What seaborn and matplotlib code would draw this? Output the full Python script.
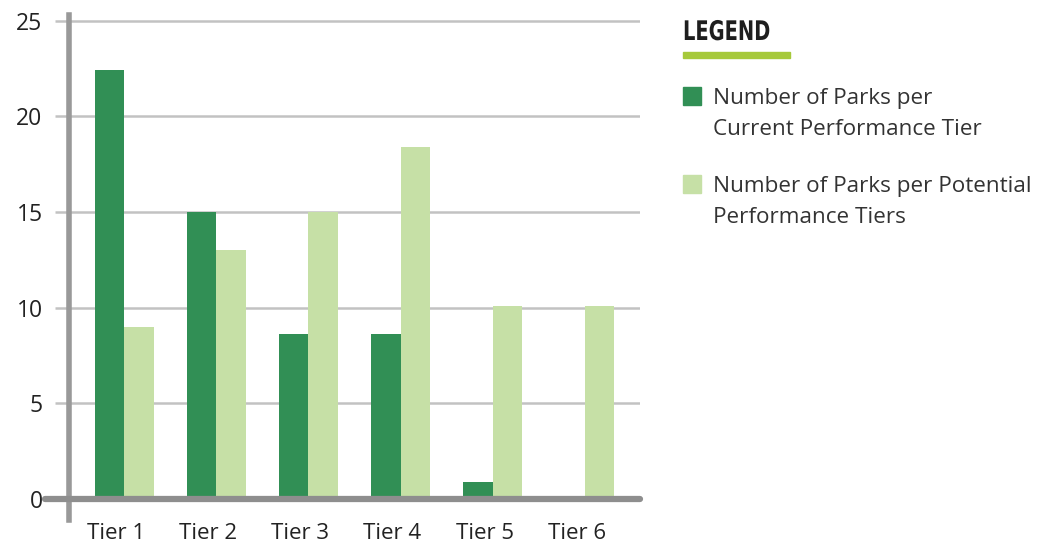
import pandas as pd
import matplotlib.pyplot as plt
import matplotlib.transforms as mtransforms
from matplotlib.patches import Rectangle, PathPatch
from matplotlib.textpath import TextPath
from matplotlib.font_manager import FontProperties
import seaborn as sns

tiers = ["Tier 1", "Tier 2", "Tier 3", "Tier 4", "Tier 5", "Tier 6"]
current_parks = [22.4, 15.0, 8.6, 8.6, 0.9, 0.0]
potential_parks = [9.0, 13.0, 15.0, 18.4, 10.1, 10.1]
series_names = ["Number of Parks per\nCurrent Performance Tier",
                "Number of Parks per Potential\nPerformance Tiers"]
y_ticks = [0, 5, 10, 15, 20, 25]

dark_green = "#318f55"
light_green = "#c6e0a6"

sns.set_theme(style="white")
plt.rcParams["font.family"] = ["Open Sans", "DejaVu Sans"]

df = pd.DataFrame({
    "tier": tiers * 2,
    "parks": current_parks + potential_parks,
    "series": [series_names[0]] * len(tiers) + [series_names[1]] * len(tiers),
})

fig = plt.figure(figsize=(10.4, 5.44), dpi=100)
ax = fig.add_axes([69 / 1040, (544 - 520) / 544, 571 / 1040, 505 / 544])

sns.barplot(data=df, x="tier", y="parks", hue="series", order=tiers,
            hue_order=series_names, palette=[dark_green, light_green],
            width=0.64, gap=0, linewidth=0, saturation=1, ax=ax, legend=False)

ax.set_xlim(-0.6, 5.6)
ax.set_ylim(-1.1, 25.3)
ax.set_yticks(y_ticks)
ax.set_xlabel("")
ax.set_ylabel("")

# grid lines
ax.grid(axis="y", color="#c2c2c2", linewidth=1.8, zorder=0)
ax.set_axisbelow(True)

for s in ["top", "right", "bottom"]:
    ax.spines[s].set_visible(False)
ax.spines["left"].set_color("#999999")
ax.spines["left"].set_linewidth(4)

# baseline at zero, stretching a bit left of the spine
ax.axhline(0, xmin=-0.042, xmax=1.0, color="#8e8e8e", linewidth=4.5,
           clip_on=False, zorder=3)

ax.tick_params(axis="y", which="major", direction="out", length=10, width=1.8,
               color="#c2c2c2", pad=9, labelsize=16.5, labelcolor="#222222", left=True)
ax.tick_params(axis="x", length=0, pad=2, labelsize=16, labelcolor="#222222")

shift = mtransforms.ScaledTranslation(-8 / 100, 0, fig.dpi_scale_trans)
for lbl in ax.get_xticklabels():
    lbl.set_transform(lbl.get_transform() + shift)

# legend block - condensed bold heading built from a squeezed text path
title_path = TextPath((0, 0), "LEGEND", size=27,
                      prop=FontProperties(family="DejaVu Sans", weight="bold"))
title_tf = mtransforms.Affine2D().scale(0.72, 1.0).translate(683, 544 - 40)
fig.patches.append(PathPatch(title_path, transform=title_tf, color="#1e1e1e", lw=0))
fig.patches.append(Rectangle((683 / 1040, 1 - 58 / 544), 107 / 1040, 6 / 544,
                             transform=fig.transFigure, color="#a6c93a"))

entry_tops = [87, 175]
for top, name, col in zip(entry_tops, series_names, [dark_green, light_green]):
    fig.patches.append(Rectangle((683 / 1040, 1 - (top + 18) / 544), 18 / 1040, 18 / 544,
                                 transform=fig.transFigure, color=col))
    fig.text(713 / 1040, 1 - (top + 1) / 544, name, fontsize=16.2, color="#333333",
             va="top", ha="left", linespacing=1.6)

fig.savefig("out.png", dpi=100)
